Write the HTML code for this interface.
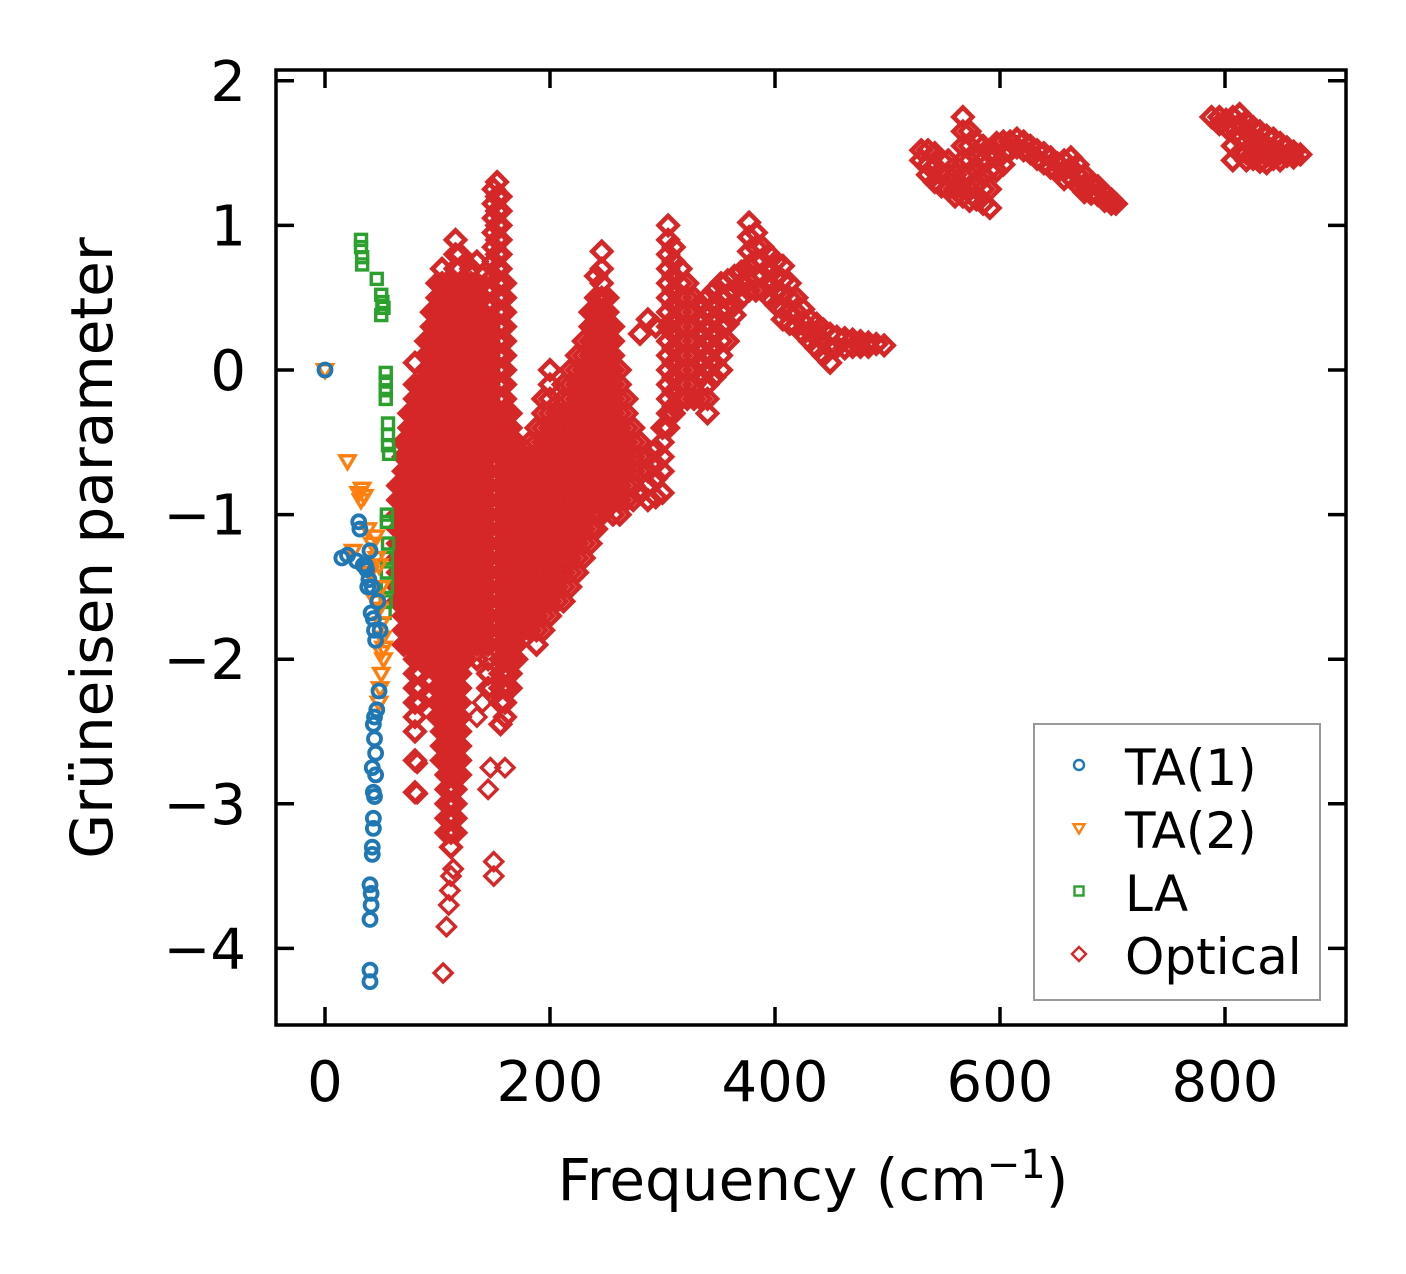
<!DOCTYPE html>
<html><head><meta charset="utf-8"><style>
html,body{margin:0;padding:0;background:#fff;}
svg{display:block;font-family:"DejaVu Sans","Liberation Sans",sans-serif;}
</style></head><body>
<svg id="chart" width="1406" height="1274" viewBox="0 0 1406 1274" xmlns="http://www.w3.org/2000/svg">
<rect width="1406" height="1274" fill="#fff"/>
<g id="marks"></g>
<g id="axes"></g>
</svg>
<script>
const xTicks = [0, 200, 400, 600, 800];
const yTicks = [2, 1, 0, -1, -2, -3, -4];
const yTickLabels = ["2", "1", "0", "\u22121", "\u22122", "\u22123", "\u22124"];
const ta1 = [[0,0],[15,-1.3],[20,-1.28],[28,-1.32],[30,-1.05],[31,-1.1],[34,-1.35],[37,-1.38],[40,-1.25],[39,-1.45],[42,-1.5],[41,-1.68],[43,-1.72],[44,-1.8],[45,-1.87],[47,-1.6],[49,-1.8],[48,-2.22],[46,-2.35],[44,-2.4],[43,-2.45],[44,-2.55],[45,-2.65],[42,-2.75],[45,-2.8],[44,-2.95],[43,-2.92],[43,-3.1],[43,-3.17],[42,-3.3],[42,-3.35],[40,-3.56],[41,-3.62],[41,-3.7],[40,-3.8],[40,-4.15],[40,-4.23],[36,-1.35],[38,-1.5]];
const ta2 = [[0,0],[20,-0.63],[30,-0.85],[32,-0.9],[35,-0.87],[33,-0.82],[38,-1.1],[42,-1.2],[45,-1.15],[46,-1.3],[48,-1.35],[50,-1.5],[48,-1.65],[50,-1.75],[51,-1.85],[52,-2.0],[50,-2.1],[48,-2.3],[52,-1.92],[25,-1.25],[40,-1.4],[45,-1.6],[50,-1.95],[49,-2.2]];
const la = [[32,0.9],[32,0.85],[33,0.78],[33,0.73],[46,0.63],[50,0.52],[51,0.47],[52,0.43],[50,0.38],[54,-0.02],[54,-0.08],[54,-0.14],[54,-0.2],[56,-0.37],[56,-0.45],[56,-0.52],[57,-0.58],[55,-1.0],[55,-1.05],[56,-1.2],[55,-1.3],[55,-1.4],[55,-1.5],[54,-1.6],[53,-1.68]];
const opticalStreaks = [
[65,[-0.8,-0.9,-1.0,-1.1,-1.2,-1.3,-1.4,-1.5,-1.6]],
[70,[-0.5,-0.6,-0.7,-0.8,-0.9,-1.0,-1.1,-1.2,-1.3,-1.4,-1.5,-1.6,-1.7,-1.8,-1.9]],
[75,[-0.3,-0.4,-0.5,-0.6,-0.7,-0.8,-0.9,-1.0,-1.1,-1.2,-1.3,-1.4,-1.5,-1.6,-1.7,-1.8,-1.9]],
[80,[0.05,-0.1,-0.2,-0.3,-0.4,-0.5,-0.6,-0.7,-0.8,-0.9,-1.0,-1.1,-1.2,-1.3,-1.4,-1.5,-1.6,-1.7,-1.8,-1.9,-2.0,-2.1,-2.2,-2.3,-2.4,-2.5,-2.7,-2.92]],
[85,[-0.1,-0.2,-0.3,-0.4,-0.5,-0.6,-0.7,-0.8,-0.9,-1.0,-1.1,-1.2,-1.3,-1.4,-1.5,-1.6,-1.7,-1.8,-1.9,-2.0,-2.1,-2.2,-2.3]],
[90,[0.2,0.1,0.0,-0.1,-0.2,-0.3,-0.4,-0.5,-0.6,-0.7,-0.8,-0.9,-1.0,-1.1,-1.2,-1.3,-1.4,-1.5,-1.6,-1.7,-1.8,-1.9,-2.0]],
[95,[0.4,0.3,0.2,0.1,0.0,-0.1,-0.2,-0.3,-0.4,-0.5,-0.6,-0.7,-0.8,-0.9,-1.0,-1.1,-1.2,-1.3,-1.4,-1.5,-1.6,-1.7,-1.8,-1.9,-2.0]],
[100,[0.6,0.5,0.4,0.3,0.2,0.1,0.0,-0.1,-0.2,-0.3,-0.4,-0.5,-0.6,-0.7,-0.8,-0.9,-1.0,-1.1,-1.2,-1.3,-1.4,-1.5,-1.6,-1.7,-1.8,-1.9,-2.0,-2.1,-2.2,-2.3,-2.4]],
[104,[0.7,0.6,0.5,0.4,0.3,0.2,0.1,0.0,-0.1,-0.2,-0.3,-0.4,-0.5,-0.6,-0.7,-0.8,-0.9,-1.0,-1.1,-1.2,-1.3,-1.4,-1.5,-1.6,-1.7,-1.8,-1.9,-2.0,-2.1,-2.2,-2.3,-2.4,-2.5,-2.6,-2.7]],
[108,[0.6,0.5,0.4,0.3,0.2,0.1,0.0,-0.1,-0.2,-0.3,-0.4,-0.5,-0.6,-0.7,-0.8,-0.9,-1.0,-1.1,-1.2,-1.3,-1.4,-1.5,-1.6,-1.7,-1.8,-1.9,-2.0,-2.1,-2.2,-2.3,-2.4,-2.5,-2.6,-2.7,-2.8,-2.9,-3.0,-3.1,-3.2]],
[112,[0.6,0.5,0.4,0.3,0.2,0.1,0.0,-0.1,-0.2,-0.3,-0.4,-0.5,-0.6,-0.7,-0.8,-0.9,-1.0,-1.1,-1.2,-1.3,-1.4,-1.5,-1.6,-1.7,-1.8,-1.9,-2.0,-2.1,-2.2,-2.3,-2.4,-2.5,-2.6,-2.7,-2.8,-2.9,-3.0,-3.1,-3.2,-3.3]],
[116,[0.9,0.8,0.7,0.6,0.5,0.4,0.3,0.2,0.1,0.0,-0.1,-0.2,-0.3,-0.4,-0.5,-0.6,-0.7,-0.8,-0.9,-1.0,-1.1,-1.2,-1.3,-1.4,-1.5,-1.6,-1.7,-1.8,-1.9,-2.0,-2.1,-2.2,-2.3,-2.4,-2.5,-2.6,-2.7,-2.8,-2.9,-3.0,-3.1,-3.2]],
[120,[0.8,0.7,0.6,0.5,0.4,0.3,0.2,0.1,0.0,-0.1,-0.2,-0.3,-0.4,-0.5,-0.6,-0.7,-0.8,-0.9,-1.0,-1.1,-1.2,-1.3,-1.4,-1.5,-1.6,-1.7,-1.8,-1.9,-2.0,-2.1,-2.2,-2.3,-2.4,-2.5,-2.6,-2.7,-2.8]],
[125,[0.6,0.5,0.4,0.3,0.2,0.1,0.0,-0.1,-0.2,-0.3,-0.4,-0.5,-0.6,-0.7,-0.8,-0.9,-1.0,-1.1,-1.2,-1.3,-1.4,-1.5,-1.6,-1.7,-1.8,-1.9,-2.0]],
[130,[0.7,0.6,0.5,0.4,0.3,0.2,0.1,0.0,-0.1,-0.2,-0.3,-0.4,-0.5,-0.6,-0.7,-0.8,-0.9,-1.0,-1.1,-1.2,-1.3,-1.4,-1.5,-1.6,-1.7,-1.8,-1.9]],
[135,[0.75,0.6,0.5,0.4,0.3,0.2,0.1,0.0,-0.1,-0.2,-0.3,-0.4,-0.5,-0.6,-0.7,-0.8,-0.9,-1.0,-1.1,-1.2,-1.3,-1.4,-1.5,-1.6,-1.7,-1.8,-1.9,-2.0]],
[140,[0.65,0.5,0.4,0.3,0.2,0.1,0.0,-0.1,-0.2,-0.3,-0.4,-0.5,-0.6,-0.7,-0.8,-0.9,-1.0,-1.1,-1.2,-1.3,-1.4,-1.5,-1.6,-1.7,-1.8,-1.9]],
[145,[0.3,0.2,0.1,0.0,-0.1,-0.2,-0.3,-0.4,-0.5,-0.6,-0.7,-0.8,-0.9,-1.0,-1.1,-1.2,-1.3,-1.4,-1.5,-1.6,-1.7,-1.8,-1.9,-2.0,-2.1,-2.2]],
[150,[1.25,1.15,1.05,0.95,0.85,0.75,0.65,0.55,0.45,0.35,0.25,0.15,0.05,-0.05,-0.15,-0.25,-0.35,-0.45,-0.55]],
[153,[1.3,1.2,1.1,1.0,0.9,0.8,0.7,0.6,0.5,0.4,0.3,0.2,0.1,0.0,-0.1,-0.2,-0.3,-0.4,-0.5]],
[156,[1.2,1.1,1.0,0.9,0.8,0.7,0.6,0.5,0.4,0.3,0.2,0.1,0.0,-0.1,-0.2,-0.3,-0.4,-0.5,-0.6,-0.7,-0.8,-0.9,-1.0,-1.1,-1.2,-1.3,-1.4,-1.5,-1.6,-1.7,-1.8,-1.9,-2.0,-2.1,-2.2,-2.3,-2.45]],
[160,[0.6,0.5,0.4,0.3,0.2,0.1,0.0,-0.1,-0.2,-0.3,-0.4,-0.5,-0.6,-0.7,-0.8,-0.9,-1.0,-1.1,-1.2,-1.3,-1.4,-1.5,-1.6,-1.7,-1.8,-1.9,-2.0,-2.1,-2.2,-2.3,-2.4]],
[165,[-0.3,-0.4,-0.5,-0.6,-0.7,-0.8,-0.9,-1.0,-1.1,-1.2,-1.3,-1.4,-1.5,-1.6,-1.7,-1.8,-1.9,-2.0,-2.1,-2.2]],
[170,[-0.5,-0.6,-0.7,-0.8,-0.9,-1.0,-1.1,-1.2,-1.3,-1.4,-1.5,-1.6,-1.7,-1.8,-1.9,-2.0]],
[176,[-0.6,-0.7,-0.8,-0.9,-1.0,-1.1,-1.2,-1.3,-1.4,-1.5,-1.6,-1.7,-1.8]],
[182,[-0.5,-0.6,-0.7,-0.8,-0.9,-1.0,-1.1,-1.2,-1.3,-1.4,-1.5,-1.6,-1.7,-1.8]],
[188,[-0.4,-0.5,-0.6,-0.7,-0.8,-0.9,-1.0,-1.1,-1.2,-1.3,-1.4,-1.5,-1.6,-1.7,-1.8,-1.9]],
[194,[-0.2,-0.3,-0.4,-0.5,-0.6,-0.7,-0.8,-0.9,-1.0,-1.1,-1.2,-1.3,-1.4,-1.5,-1.6,-1.7,-1.8]],
[200,[0.0,-0.1,-0.2,-0.3,-0.4,-0.5,-0.6,-0.7,-0.8,-0.9,-1.0,-1.1,-1.2,-1.3,-1.4,-1.5,-1.6,-1.7]],
[206,[-0.3,-0.4,-0.5,-0.6,-0.7,-0.8,-0.9,-1.0,-1.1,-1.2,-1.3,-1.4,-1.5,-1.6]],
[212,[-0.1,-0.2,-0.3,-0.4,-0.5,-0.6,-0.7,-0.8,-0.9,-1.0,-1.1,-1.2,-1.3,-1.4,-1.5,-1.6]],
[218,[0.0,-0.1,-0.2,-0.3,-0.4,-0.5,-0.6,-0.7,-0.8,-0.9,-1.0,-1.1,-1.2,-1.3,-1.4,-1.5]],
[224,[0.1,0.0,-0.1,-0.2,-0.3,-0.4,-0.5,-0.6,-0.7,-0.8,-0.9,-1.0,-1.1,-1.2,-1.3,-1.4]],
[230,[0.2,0.1,0.0,-0.1,-0.2,-0.3,-0.4,-0.5,-0.6,-0.7,-0.8,-0.9,-1.0,-1.1,-1.2,-1.3]],
[236,[0.4,0.3,0.2,0.1,0.0,-0.1,-0.2,-0.3,-0.4,-0.5,-0.6,-0.7,-0.8,-0.9,-1.0,-1.1,-1.2]],
[241,[0.65,0.5,0.4,0.3,0.2,0.1,0.0,-0.1,-0.2,-0.3,-0.4,-0.5,-0.6,-0.7,-0.8,-0.9,-1.0,-1.1]],
[246,[0.82,0.7,0.6,0.5,0.4,0.3,0.2,0.1,0.0,-0.1,-0.2,-0.3,-0.4,-0.5,-0.6,-0.7,-0.8,-0.9,-1.0]],
[251,[0.5,0.4,0.3,0.2,0.1,0.0,-0.1,-0.2,-0.3,-0.4,-0.5,-0.6,-0.7,-0.8,-0.9]],
[256,[0.3,0.2,0.1,0.0,-0.1,-0.2,-0.3,-0.4,-0.5,-0.6,-0.7,-0.8,-0.9,-1.0]],
[262,[0.0,-0.1,-0.2,-0.3,-0.4,-0.5,-0.6,-0.7,-0.8,-0.9,-1.0]],
[268,[-0.2,-0.3,-0.4,-0.5,-0.6,-0.7,-0.8,-0.9]],
[274,[-0.4,-0.5,-0.6,-0.7,-0.8,-0.9]],
[280,[0.25,-0.5,-0.6,-0.7,-0.85]],
[287,[0.35,-0.6,-0.7,-0.8,-0.9]],
[294,[0.3,-0.55,-0.65,-0.75,-0.88]],
[300,[-0.4,-0.5,-0.6,-0.7,-0.85]],
[305,[1.0,0.9,0.8,0.7,0.6,0.5,0.4,0.3,0.2,0.1,0.0,-0.1,-0.2,-0.3,-0.4]],
[310,[0.85,0.75,0.65,0.55,0.45,0.35,0.25,0.15,0.05,-0.05,-0.15,-0.25,-0.3]],
[316,[0.7,0.6,0.5,0.4,0.3,0.2,0.1,0.0,-0.1,-0.2]],
[322,[0.6,0.5,0.4,0.3,0.2,0.1,0.0,-0.1,-0.2]],
[328,[0.5,0.4,0.3,0.2,0.1,0.0,-0.1,-0.2]],
[334,[0.45,0.35,0.25,0.15,0.05,-0.05,-0.2]],
[340,[0.5,0.4,0.3,0.2,0.1,0.0,-0.1,-0.2,-0.3]],
[346,[0.55,0.45,0.35,0.25,0.15,0.05,-0.05]],
[352,[0.6,0.5,0.4,0.3,0.2,0.1,0.0]],
[358,[0.62,0.52,0.42,0.32,0.2]],
[364,[0.65,0.55,0.45,0.38]],
[370,[0.68,0.6,0.5]],
[377,[1.02,0.92,0.82,0.72,0.62,0.55]],
[383,[0.95,0.85,0.75,0.65,0.55]],
[389,[0.85,0.75,0.65,0.55]],
[395,[0.8,0.7,0.6,0.5]],
[401,[0.75,0.65,0.55,0.45]],
[407,[0.72,0.62,0.52,0.42,0.35]],
[413,[0.6,0.5,0.4,0.32]],
[419,[0.5,0.4,0.3]],
[425,[0.42,0.33,0.25]],
[431,[0.35,0.27,0.2]],
[437,[0.32,0.25,0.15]],
[443,[0.28,0.2,0.1]],
[449,[0.25,0.15,0.05]],
[455,[0.23,0.16]],
[462,[0.22,0.15]],
[469,[0.21,0.16]],
[476,[0.2,0.16]],
[483,[0.19,0.16]],
[490,[0.18]],
[497,[0.17]],
[530,[1.52,1.45]],
[536,[1.52,1.42,1.35]],
[542,[1.5,1.4,1.3]],
[548,[1.45,1.35,1.27]],
[554,[1.45,1.35,1.25]],
[560,[1.35,1.25,1.2]],
[567,[1.75,1.65,1.55,1.45,1.35,1.25,1.2]],
[573,[1.65,1.55,1.45,1.35,1.25,1.17]],
[579,[1.58,1.48,1.38,1.28,1.18]],
[585,[1.55,1.45,1.35,1.25,1.15]],
[591,[1.5,1.38,1.25,1.12]],
[597,[1.57,1.48,1.38]],
[603,[1.58,1.5,1.42]],
[609,[1.58,1.52]],
[615,[1.6,1.54]],
[621,[1.58,1.52]],
[627,[1.55,1.5]],
[633,[1.52,1.46]],
[639,[1.5,1.43]],
[645,[1.47,1.4]],
[651,[1.43,1.37]],
[657,[1.45,1.38,1.32]],
[663,[1.47,1.4,1.33]],
[669,[1.42,1.35,1.28]],
[675,[1.35,1.28,1.23]],
[681,[1.28,1.22]],
[687,[1.27,1.21]],
[693,[1.22,1.17]],
[699,[1.18,1.15]],
[703,[1.15]],
[788,[1.75]],
[795,[1.75,1.7]],
[801,[1.73,1.68]],
[807,[1.75,1.68,1.55,1.45]],
[813,[1.77,1.7,1.6,1.5]],
[819,[1.72,1.65,1.58,1.5,1.45]],
[825,[1.68,1.6,1.53,1.46]],
[831,[1.65,1.58,1.5,1.44]],
[837,[1.62,1.55,1.48,1.43]],
[843,[1.6,1.53,1.46]],
[849,[1.57,1.5,1.45]],
[855,[1.54,1.48]],
[861,[1.51,1.47]],
[867,[1.49]]
];
const opticalExtras = [[105,-4.17],[108,-3.85],[111,-3.6],[114,-3.45],[112,-3.5],[110,-3.7],[150,-3.5],[150,-3.4],[145,-2.9],[147,-2.75],[160,-2.75],[148,-2.2],[82,-2.72],[82,-2.93],[98,0.05],[135,-2.4],[140,-2.3]];

const X0 = 325, XS = 1.125, Y0 = 370, YS = 144.6;
function xScale(v){ return X0 + XS * v; }
function yScale(v){ return Y0 - YS * v; }
const NS = "http://www.w3.org/2000/svg";
const marks = document.getElementById('marks');
const axes = document.getElementById('axes');
function mk(tag, attrs, parent){
  const e = document.createElementNS(NS, tag);
  for (const k in attrs) e.setAttribute(k, attrs[k]);
  parent.appendChild(e);
  return e;
}
const clip = mk('clipPath', {id:'pc'}, document.getElementById('chart'));
mk('rect', {x:276, y:70, width:1070, height:955}, clip);
marks.setAttribute('clip-path', 'url(#pc)');

function circle(cx, cy, r, col, sw, parent){ return mk('circle', {cx:cx, cy:cy, r:r, fill:'none', stroke:col, 'stroke-width':sw}, parent); }
function tri(cx, cy, s, col, sw, parent){ return mk('polygon', {points:`${cx-s},${cy-s*0.7} ${cx+s},${cy-s*0.7} ${cx},${cy+s}`, fill:'none', stroke:col, 'stroke-width':sw}, parent); }
function sq(cx, cy, s, col, sw, parent){ return mk('rect', {x:cx-s, y:cy-s, width:2*s, height:2*s, fill:'none', stroke:col, 'stroke-width':sw}, parent); }
function dia(cx, cy, s, col, sw, parent){ return mk('polygon', {points:`${cx},${cy-s} ${cx+s},${cy} ${cx},${cy+s} ${cx-s},${cy}`, fill:'none', stroke:col, 'stroke-width':sw}, parent); }

const gOpt = mk('g', {}, marks);


opticalStreaks.forEach(s => {
  s[1].forEach(g => {
    const el = dia(xScale(s[0]), yScale(g), 9.5, '#d62728', 4.6, gOpt);
    
    
  });
});
opticalExtras.forEach(p => {
  const el = dia(xScale(p[0]), yScale(p[1]), 9, '#d62728', 3.4, gOpt);
  
  
});
const gLA = mk('g', {}, marks);


la.forEach(p => {
  const el = sq(xScale(p[0]), yScale(p[1]), 5.5, '#2ca02c', 3.4, gLA);
  
  
});
const gTA2 = mk('g', {}, marks);


ta2.forEach(p => {
  const el = tri(xScale(p[0]), yScale(p[1]), 7.5, '#ff7f0e', 3.4, gTA2);
  
  
});
const gTA1 = mk('g', {}, marks);


ta1.forEach(p => {
  const el = circle(xScale(p[0]), yScale(p[1]), 6.5, '#1f77b4', 3.8, gTA1);
  
  
});

const L = 276, R = 1346, T = 70, B = 1025, TL = 18;
xTicks.forEach(v => {
  const x = xScale(v);
  const t1 = mk('line', {x1:x, y1:B, x2:x, y2:B-TL, stroke:'#000', 'stroke-width':3.5}, axes);
  
  
  const t2 = mk('line', {x1:x, y1:T, x2:x, y2:T+TL, stroke:'#000', 'stroke-width':3.5}, axes);
  
  
  const tx = mk('text', {x:x, y:1101, 'font-size':56, 'text-anchor':'middle', fill:'#000'}, axes);
  tx.textContent = String(v);
  
  
});
yTicks.forEach((v, i) => {
  const y = yScale(v);
  const t1 = mk('line', {x1:L, y1:y, x2:L+TL, y2:y, stroke:'#000', 'stroke-width':3.5}, axes);
  
  
  const t2 = mk('line', {x1:R, y1:y, x2:R-TL, y2:y, stroke:'#000', 'stroke-width':3.5}, axes);
  
  
  const tx = mk('text', {x:246, y:y+20, 'font-size':56, 'text-anchor':'end', fill:'#000'}, axes);
  tx.textContent = yTickLabels[i];
  
  
});
const frame = mk('rect', {x:L, y:T, width:R-L, height:B-T, fill:'none', stroke:'#000', 'stroke-width':3.5}, axes);



const lg = mk('g', {}, axes);


mk('rect', {x:1034, y:724, width:286, height:276, fill:'#fff', stroke:'#999', 'stroke-width':2}, lg);
const legendLabels = ["TA(1)", "TA(2)", "LA", "Optical"];
const legendY = [767, 830, 893, 956];
legendLabels.forEach((lab, i) => {
  const y = legendY[i];
  let m;
  if (i === 0) m = circle(1079, y - 2, 5, '#1f77b4', 2.4, lg);
  if (i === 1) m = tri(1079, y - 2, 5.5, '#ff7f0e', 2.4, lg);
  if (i === 2) m = sq(1079, y - 2, 4.5, '#2ca02c', 2.4, lg);
  if (i === 3) m = dia(1079, y - 2, 7, '#d62728', 2.4, lg);
  
  
  const t = mk('text', {x:1125, y:y + 18, 'font-size':50, fill:'#000'}, lg);
  t.textContent = lab;
  
  
});

const xt = mk('text', {x:813, y:1200, 'font-size':58, 'text-anchor':'middle', fill:'#000'}, axes);
xt.innerHTML = 'Frequency (cm<tspan dy="-22" font-size="40">\u22121</tspan><tspan dy="22">)</tspan>';


const yt = mk('text', {x:0, y:0, 'font-size':58, 'text-anchor':'middle', fill:'#000', transform:'translate(112,548) rotate(-90)'}, axes);
yt.textContent = 'Grüneisen parameter';


</script>
</body></html>
